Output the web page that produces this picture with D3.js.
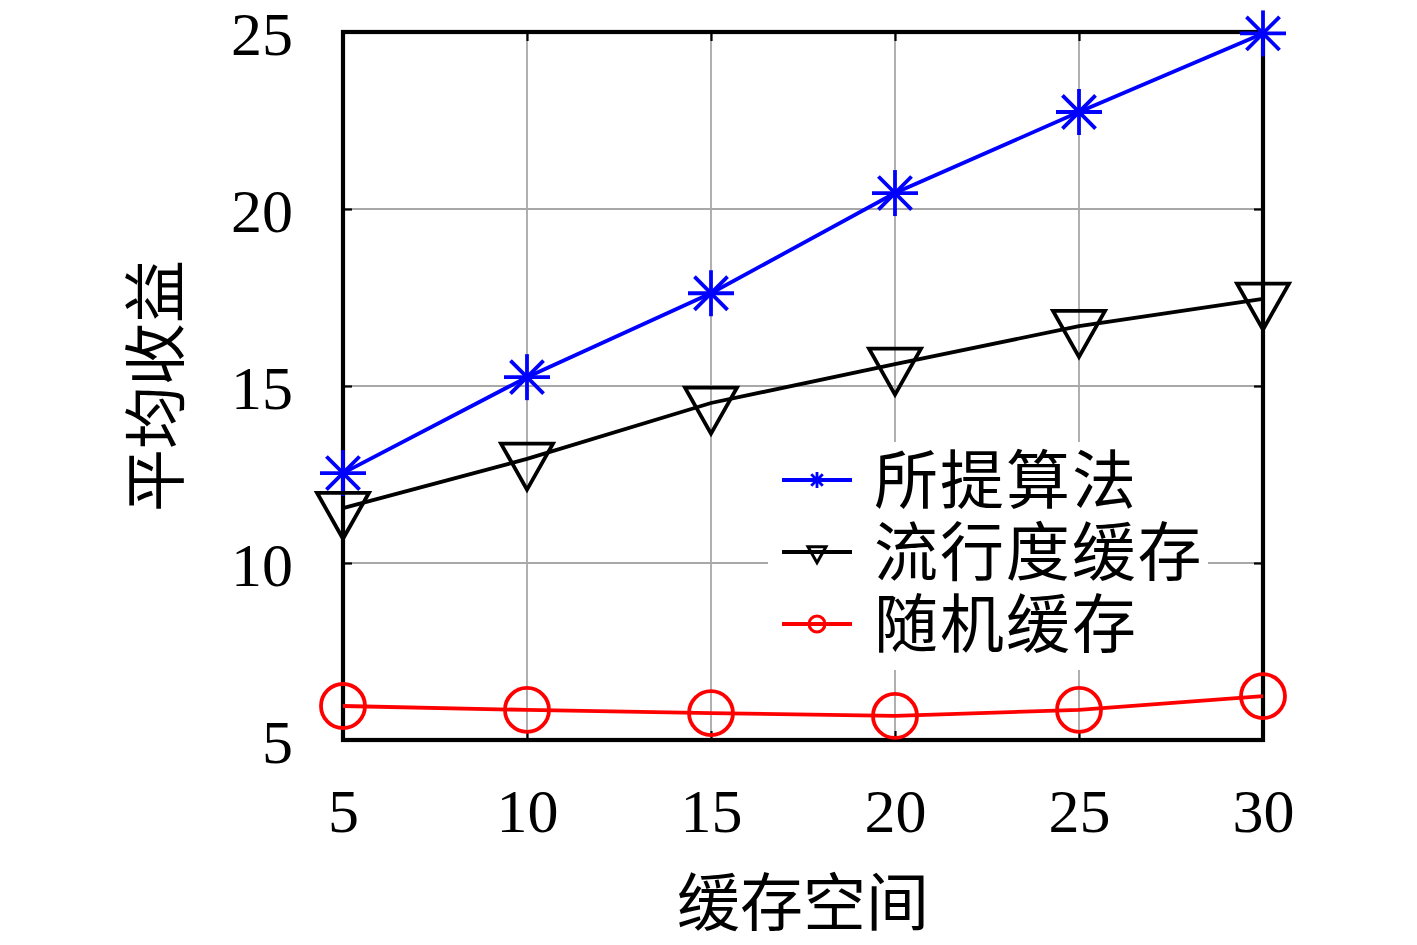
<!DOCTYPE html>
<html>
<head>
<meta charset="utf-8">
<script src="https://cdn.jsdelivr.net/npm/d3@7/dist/d3.min.js"></script>
<style>
html,body{margin:0;padding:0;background:#ffffff;}
svg{display:block;}
</style>
</head>
<body>
<svg id="chart" width="1417" height="945"></svg>
<script>
const xValues = [5, 10, 15, 20, 25, 30];
const proposed = [12.54, 15.25, 17.62, 20.45, 22.74, 24.96];
const popularity = [11.55, 12.94, 14.52, 15.62, 16.69, 17.46];
const randomCache = [5.96, 5.85, 5.76, 5.68, 5.85, 6.24];
const xTicks = [5, 10, 15, 20, 25, 30];
const yTicks = [5, 10, 15, 20, 25];
const seriesNames = ["所提算法", "流行度缓存", "随机缓存"];
const xLabel = "缓存空间";
const yLabel = "平均收益";

const svg = d3.select("#chart");
const W = 1417, H = 945;
svg.append("rect").attr("width", W).attr("height", H).attr("fill", "#ffffff");

const L = 343, R = 1263, T = 32, B = 740;
const x = d3.scaleLinear().domain([5, 30]).range([L, R]);
const y = d3.scaleLinear().domain([5, 25]).range([B, T]);

const numFont = "'Liberation Serif', 'DejaVu Serif', serif";
const cjkFont = "'Noto Sans CJK SC', sans-serif";

// grid
const grid = svg.append("g");
grid.selectAll(".gx").data(xTicks).enter().append("line")
  .attr("x1", d => x(d)).attr("x2", d => x(d)).attr("y1", T).attr("y2", B)
  .attr("stroke", "#a8a8a8").attr("stroke-width", 1.8);
grid.selectAll(".gy").data(yTicks).enter().append("line")
  .attr("y1", d => y(d)).attr("y2", d => y(d)).attr("x1", L).attr("x2", R)
  .attr("stroke", "#a8a8a8").attr("stroke-width", 1.8);

// axes (ticks inside, all sides)
const tk = 9;
const xAxisB = d3.axisBottom(x).tickValues(xTicks).tickSizeInner(-tk).tickSizeOuter(0).tickFormat(d3.format("d"));
const xAxisT = d3.axisTop(x).tickValues(xTicks).tickSizeInner(-tk).tickSizeOuter(0).tickFormat("");
const yAxisL = d3.axisLeft(y).tickValues(yTicks).tickSizeInner(-tk).tickSizeOuter(0).tickFormat(d3.format("d"));
const yAxisR = d3.axisRight(y).tickValues(yTicks).tickSizeInner(-tk).tickSizeOuter(0).tickFormat("");

function styleAxis(g) {
  g.select(".domain").remove();
  g.selectAll(".tick line").attr("stroke", "#000").attr("stroke-width", 2.2);
  g.selectAll(".tick text").attr("fill", "#000").style("font-family", numFont).style("font-size", "62px");
}
svg.append("g").attr("transform", `translate(0,${B})`).call(xAxisB).call(styleAxis)
  .selectAll(".tick text").attr("dy", "0.71em").attr("y", 48);
svg.append("g").attr("transform", `translate(0,${T})`).call(xAxisT).call(styleAxis);
svg.append("g").attr("transform", `translate(${L},0)`).call(yAxisL).call(styleAxis)
  .selectAll(".tick text").attr("x", -50).attr("dy", "0.36em");
svg.append("g").attr("transform", `translate(${R},0)`).call(yAxisR).call(styleAxis);

// frame
svg.append("rect").attr("x", L).attr("y", T).attr("width", R - L).attr("height", B - T)
  .attr("fill", "none").attr("stroke", "#000").attr("stroke-width", 4.2);

// marker drawers
function asterisk(g, cx, cy, s, color, sw) {
  const d = s * 0.72;
  const segs = [[0, -s, 0, s], [-s, 0, s, 0], [-d, -d, d, d], [-d, d, d, -d]];
  segs.forEach(p => g.append("line")
    .attr("x1", cx + p[0]).attr("y1", cy + p[1]).attr("x2", cx + p[2]).attr("y2", cy + p[3])
    .attr("stroke", color).attr("stroke-width", sw));
}
function triDown(g, cx, cy, w, h, color, sw) {
  const pts = [[cx - w, cy - h / 3], [cx + w, cy - h / 3], [cx, cy + 2 * h / 3]];
  g.append("path").attr("d", "M" + pts.map(p => p.join(",")).join("L") + "Z")
    .attr("fill", "none").attr("stroke", color).attr("stroke-width", sw).attr("stroke-linejoin", "miter");
}
function circ(g, cx, cy, r, color, sw) {
  g.append("circle").attr("cx", cx).attr("cy", cy).attr("r", r)
    .attr("fill", "none").attr("stroke", color).attr("stroke-width", sw);
}

const line = d3.line().x((d, i) => x(xValues[i])).y(d => y(d));
const series = [
  {name: seriesNames[0], data: proposed, color: "#0000ff", marker: "ast"},
  {name: seriesNames[1], data: popularity, color: "#000000", marker: "tri"},
  {name: seriesNames[2], data: randomCache, color: "#ff0000", marker: "circ"}
];

const plot = svg.append("g");
series.forEach(s => {
  plot.append("path").datum(s.data).attr("d", line)
    .attr("fill", "none").attr("stroke", s.color).attr("stroke-width", 3.8);
  const mg = plot.append("g");
  s.data.forEach((v, i) => {
    const cx = x(xValues[i]), cy = y(v);
    if (s.marker === "ast") asterisk(mg, cx, cy, 23, s.color, 3.8);
    else if (s.marker === "tri") triDown(mg, cx, cy, 26, 46, s.color, 3.8);
    else circ(mg, cx, cy, 22, s.color, 3.8);
  });
});

// legend
const lg = svg.append("g");
lg.append("rect").attr("x", 768).attr("y", 442).attr("width", 440).attr("height", 228)
  .attr("fill", "#ffffff");
const rowY = [480, 552, 624];
series.forEach((s, i) => {
  const ry = rowY[i];
  lg.append("line").attr("x1", 782).attr("x2", 852).attr("y1", ry).attr("y2", ry)
    .attr("stroke", s.color).attr("stroke-width", 3.8);
  if (s.marker === "ast") asterisk(lg, 817, ry, 8, s.color, 2.8);
  else if (s.marker === "tri") triDown(lg, 817, ry, 9, 16, s.color, 3);
  else circ(lg, 817, ry, 8, s.color, 3);
  lg.append("text").attr("x", 874).attr("y", ry).attr("dy", "0.36em")
    .style("font-family", cjkFont).style("font-size", "64px").attr("fill", "#000")
    .attr("textLength", s.name.length * 65.5).attr("lengthAdjust", "spacing")
    .text(s.name);
});

// axis labels
svg.append("text").attr("x", (L + R) / 2).attr("y", 902).attr("dy", "0.36em")
  .attr("text-anchor", "middle").style("font-family", cjkFont).style("font-size", "63px")
  .attr("fill", "#000").text(xLabel);
svg.append("text").attr("transform", `translate(155,386) rotate(-90)`).attr("dy", "0.36em")
  .attr("text-anchor", "middle").style("font-family", cjkFont).style("font-size", "63px")
  .attr("fill", "#000").text(yLabel);
</script>
</body>
</html>
